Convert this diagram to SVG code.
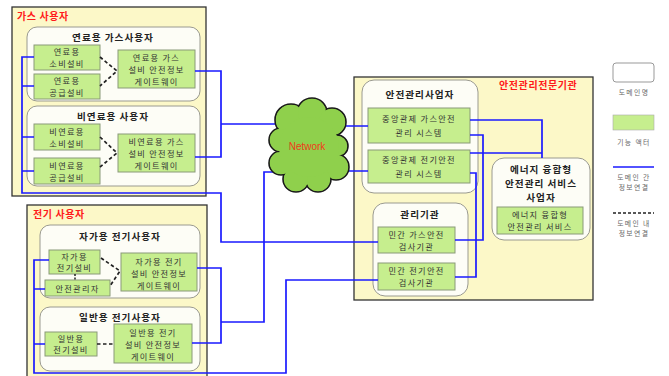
<svg xmlns="http://www.w3.org/2000/svg" width="669" height="376" viewBox="0 0 669 376">
<style>
text{font-family:"Noto Sans CJK KR","Noto Sans",sans-serif;fill:#333;text-anchor:middle}
.t{font-size:8.2px;letter-spacing:1.3px}
.h{font-size:9.6px;font-weight:bold;letter-spacing:1px;fill:#222}
.r{font-size:10px;font-weight:bold;fill:#ff1a1a;text-anchor:start;letter-spacing:0.6px}
.lg{font-size:6.8px;fill:#666;letter-spacing:1.4px}
.outer{fill:#fcf8c8;stroke:#333;stroke-width:1.3}
.dom{fill:#fdfdf6;stroke:#9a9a90;stroke-width:1}
.act{fill:#c6ee8e;stroke:#8a9a78;stroke-width:1}
.bl{fill:none;stroke:#1a1aff;stroke-width:1.7}
.ds{fill:none;stroke:#222;stroke-width:1.7;stroke-dasharray:3.5,2.5}
</style>
<rect width="669" height="376" fill="#ffffff"/>

<g id="gas-users">
<rect class="outer" x="12" y="7" width="194" height="189"/>
<text class="r" x="17" y="20">가스 사용자</text>
</g>
<g id="fuel-gas-user">
<rect class="dom" x="27" y="27" width="173" height="74" rx="10"/>
<text class="h" x="113" y="41">연료용 가스사용자</text>
</g>
<g id="fuel-consume">
<rect class="act" x="34" y="45" width="66" height="25"/>
<text class="t" x="67" y="55">연료용</text><text class="t" x="67" y="67">소비설비</text>
</g>
<g id="fuel-supply">
<rect class="act" x="34" y="74" width="66" height="25"/>
<text class="t" x="67" y="84">연료용</text><text class="t" x="67" y="96">공급설비</text>
</g>
<g id="fuel-gateway">
<rect class="act" x="118" y="50" width="77" height="38"/>
<text class="t" x="156.5" y="61">연료용 가스</text><text class="t" x="156.5" y="73">설비 안전정보</text><text class="t" x="156.5" y="85">게이트웨이</text>
</g>
<g id="nonfuel-gas-user">
<rect class="dom" x="27" y="106" width="173" height="80" rx="10"/>
<text class="h" x="113" y="120">비연료용 사용자</text>
</g>
<g id="nonfuel-consume">
<rect class="act" x="34" y="124" width="66" height="26"/>
<text class="t" x="67" y="135">비연료용</text><text class="t" x="67" y="147">소비설비</text>
</g>
<g id="nonfuel-supply">
<rect class="act" x="34" y="158" width="66" height="26"/>
<text class="t" x="67" y="169">비연료용</text><text class="t" x="67" y="181">공급설비</text>
</g>
<g id="nonfuel-gateway">
<rect class="act" x="118" y="134" width="77" height="38"/>
<text class="t" x="156.5" y="145">비연료용 가스</text><text class="t" x="156.5" y="157">설비 안전정보</text><text class="t" x="156.5" y="169">게이트웨이</text>
</g>

<g id="elec-users">
<rect class="outer" x="27" y="205" width="180" height="180"/>
<text class="r" x="33" y="218">전기 사용자</text>
</g>
<g id="private-elec-user">
<rect class="dom" x="40" y="225" width="160" height="73" rx="10"/>
<text class="h" x="120" y="240">자가용 전기사용자</text>
</g>
<g id="private-elec-equip">
<rect class="act" x="49" y="250" width="51" height="24"/>
<text class="t" x="74.5" y="260">자가용</text><text class="t" x="74.5" y="271">전기설비</text>
</g>
<g id="safety-manager">
<rect class="act" x="45" y="280" width="65" height="16"/>
<text class="t" x="77.5" y="291.5">안전관리자</text>
</g>
<g id="private-elec-gateway">
<rect class="act" x="121" y="253" width="76" height="38"/>
<text class="t" x="159" y="265">자가용 전기</text><text class="t" x="159" y="277">설비 안전정보</text><text class="t" x="159" y="289">게이트웨이</text>
</g>
<g id="general-elec-user">
<rect class="dom" x="40" y="307" width="160" height="64" rx="10"/>
<text class="h" x="120" y="321">일반용 전기사용자</text>
</g>
<g id="general-elec-equip">
<rect class="act" x="45" y="332" width="52" height="24"/>
<text class="t" x="71" y="342">일반용</text><text class="t" x="71" y="353">전기설비</text>
</g>
<g id="general-elec-gateway">
<rect class="act" x="114" y="324" width="78" height="39"/>
<text class="t" x="153" y="336">일반용 전기</text><text class="t" x="153" y="348">설비 안전정보</text><text class="t" x="153" y="360">게이트웨이</text>
</g>

<g id="expert-agency">
<rect class="outer" x="354" y="77" width="239" height="223"/>
<text class="r" x="499" y="89">안전관리전문기관</text>
</g>
<g id="safety-operator">
<rect class="dom" x="362" y="80" width="116" height="113" rx="12"/>
<text class="h" x="420" y="98">안전관리사업자</text>
</g>
<g id="central-gas">
<rect class="act" x="368" y="108" width="102" height="35"/>
<text class="t" x="419" y="122">중앙관제 가스안전</text><text class="t" x="419" y="136">관리 시스템</text>
</g>
<g id="central-elec">
<rect class="act" x="368" y="150" width="102" height="33"/>
<text class="t" x="419" y="163">중앙관제 전기안전</text><text class="t" x="419" y="177">관리 시스템</text>
</g>
<g id="management-agency">
<rect class="dom" x="373" y="203" width="95" height="93" rx="12"/>
<text class="h" x="420" y="218">관리기관</text>
</g>
<g id="private-gas-inspect">
<rect class="act" x="378" y="227" width="77" height="26"/>
<text class="t" x="416.5" y="238">민간 가스안전</text><text class="t" x="416.5" y="250">검사기관</text>
</g>
<g id="private-elec-inspect">
<rect class="act" x="378" y="263" width="77" height="27"/>
<text class="t" x="416.5" y="274">민간 전기안전</text><text class="t" x="416.5" y="286">검사기관</text>
</g>
<g id="energy-operator">
<rect class="dom" x="492" y="158" width="98" height="82" rx="12"/>
<text class="h" x="541" y="173">에너지 융합형</text><text class="h" x="541" y="187">안전관리 서비스</text><text class="h" x="541" y="201">사업자</text>
</g>
<g id="energy-service">
<rect class="act" x="497" y="207" width="86" height="27"/>
<text class="t" x="540" y="218">에너지 융합형</text><text class="t" x="540" y="230">안전관리 서비스</text>
</g>

<g id="connectors">
<path class="bl" d="M34 57H22V193H221V242H378M22 86H34M22 137H34M22 171H34"/>
<path class="bl" d="M195 71H221V157H195M221 124H276"/>
<path class="bl" d="M197 268H221V343H192M221 322H264V172H276"/>
<path class="bl" d="M49 260H34V373H286V280H378M34 289H45M34 344H45"/>
<path class="bl" d="M344 126H368M336 171H368"/>
<path class="bl" d="M470 120H542V158M470 153H542"/>
<path class="bl" d="M470 135H483V240H455M470 173H476V277H455"/>
<path class="ds" d="M100 57L117 71L100 86M100 137L117 153L100 167"/>
<path class="ds" d="M101 258L120 271L110 286M97 344H114"/>
<path d="M75 274V280" stroke="#222" stroke-width="1.5" stroke-dasharray="2,1.5"/>
</g>

<g id="network">
<g fill="#8fd04c" stroke="#1a1a1a" stroke-width="1.6">
<circle cx="291" cy="120" r="16"/><circle cx="312" cy="113" r="15"/><circle cx="332" cy="122" r="14"/>
<circle cx="337" cy="146" r="11"/><circle cx="336" cy="167" r="13"/><circle cx="318" cy="179" r="13"/>
<circle cx="296" cy="179" r="13"/><circle cx="281" cy="163" r="12"/><circle cx="281" cy="140" r="12"/>
</g>
<g fill="#8fd04c">
<circle cx="291" cy="120" r="15"/><circle cx="312" cy="113" r="14"/><circle cx="332" cy="122" r="13"/>
<circle cx="337" cy="146" r="10"/><circle cx="336" cy="167" r="12"/><circle cx="318" cy="179" r="12"/>
<circle cx="296" cy="179" r="12"/><circle cx="281" cy="163" r="11"/><circle cx="281" cy="140" r="11"/>
<circle cx="309" cy="147" r="30"/>
</g>
<text x="307" y="150" style="font-family:'Liberation Sans',sans-serif;font-size:10px;fill:#f03a1a">Network</text>
</g>

<g id="legend">
<rect x="613" y="63" width="41" height="19" rx="3" fill="#fff" stroke="#999"/>
<text class="lg" x="634" y="95">도메인명</text>
<rect x="613" y="115" width="41" height="15" fill="#c6ee8e" stroke="#aaa" stroke-width="0.6"/>
<text class="lg" x="634" y="145">기능 액터</text>
<line x1="613" y1="167" x2="654" y2="167" stroke="#1a1aff" stroke-width="1.7"/>
<text class="lg" x="634" y="180">도메인 간</text><text class="lg" x="634" y="190">정보연결</text>
<line x1="613" y1="213" x2="654" y2="213" stroke="#222" stroke-width="1.7" stroke-dasharray="3,2"/>
<text class="lg" x="634" y="226">도메인 내</text><text class="lg" x="634" y="236">정보연결</text>
</g>
</svg>
